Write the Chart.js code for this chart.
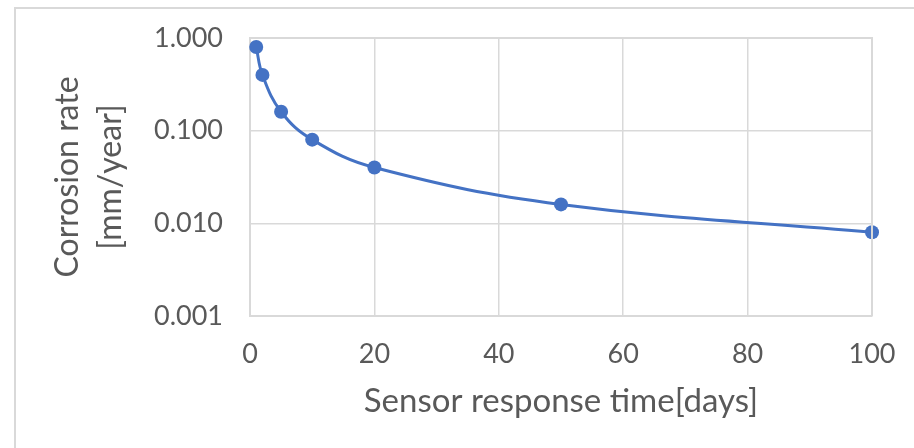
<!DOCTYPE html>
<html>
<head>
<meta charset="utf-8">
<script src="https://cdn.jsdelivr.net/npm/chart.js@4"></script>
<style>
  html, body { margin: 0; padding: 0; background: #fff; }
  #wrap { position: relative; width: 914px; height: 448px; overflow: hidden; }
  #frame { position: absolute; left: 14px; top: 7px; width: 960px; height: 500px; border-left: 2px solid #d9d9d9; border-top: 2px solid #d9d9d9; }
  canvas { position: absolute; left: 0; top: 0; }
</style>
</head>
<body>
<div id="wrap">
  <div id="frame"></div>
  <canvas id="chart" width="914" height="448"></canvas>
</div>
<script>
// sensor response time (days) vs corrosion rate (mm/year)
const days = [1, 2, 5, 10, 20, 50, 100];
const rates = [0.8, 0.4, 0.16, 0.08, 0.04, 0.016, 0.008];
const yTicks = [0.001, 0.01, 0.1, 1];
const xTicks = [0, 20, 40, 60, 80, 100];

const textColor = '#595959';
const gridColor = '#d9d9d9';
const fontFamily = 'Lato, "Open Sans", sans-serif';

const ctx = document.getElementById('chart').getContext('2d');

new Chart(ctx, {
  type: 'line',
  data: {
    datasets: [{
      data: days.map((d, i) => ({ x: d, y: rates[i] })),
      borderColor: '#4472c4',
      backgroundColor: '#4472c4',
      borderWidth: 3,
      pointRadius: 7,
      pointBorderWidth: 0,
      tension: 0.4,
      clip: false
    }]
  },
  options: {
    responsive: false,
    animation: false,
    layout: { padding: { top: 38, right: 42, left: 0, bottom: 0 } },
    plugins: {
      legend: { display: false },
      tooltip: { enabled: false }
    },
    scales: {
      x: {
        type: 'linear',
        min: 0,
        max: 100,
        afterBuildTicks: (scale) => { scale.ticks = xTicks.map(v => ({ value: v })); },
        afterFit: (scale) => {
          scale.height = 448 - 316;
          scale.paddingLeft = 0;
          scale.paddingRight = 0;
        },
        grid: { color: gridColor, lineWidth: 1.5, drawTicks: false },
        border: { color: gridColor, width: 2 },
        ticks: { color: textColor, padding: 22, font: { family: fontFamily, size: 27 } },
        title: {
          display: true,
          text: 'Sensor response time[days]',
          color: textColor,
          font: { family: fontFamily, size: 33 },
          padding: { top: 0, bottom: 27 }
        }
      },
      y: {
        type: 'logarithmic',
        min: 0.001,
        max: 1,
        afterBuildTicks: (scale) => { scale.ticks = yTicks.map(v => ({ value: v })); },
        afterFit: (scale) => {
          scale.width = 250;
          scale.paddingTop = 0;
          scale.paddingBottom = 0;
        },
        grid: { color: gridColor, lineWidth: 1.5, drawTicks: false },
        border: { color: gridColor, width: 2 },
        ticks: {
          color: textColor,
          padding: 27,
          font: { family: fontFamily, size: 27 },
          callback: (v) => Number(v).toFixed(3)
        },
        title: {
          display: true,
          text: ['Corrosion rate', '[mm/year]'],
          color: textColor,
          font: { family: fontFamily, size: 32, lineHeight: 1.34 },
          padding: { top: 46, bottom: 0 }
        }
      }
    }
  },
  plugins: [{
    id: 'plotFrame',
    afterDraw(chart) {
      const { ctx, chartArea: a } = chart;
      ctx.save();
      ctx.strokeStyle = gridColor;
      ctx.lineWidth = 2;
      ctx.beginPath();
      ctx.moveTo(a.left, a.top);
      ctx.lineTo(a.right, a.top);
      ctx.lineTo(a.right, a.bottom);
      ctx.stroke();
      ctx.restore();
    }
  }]
});
</script>
</body>
</html>
